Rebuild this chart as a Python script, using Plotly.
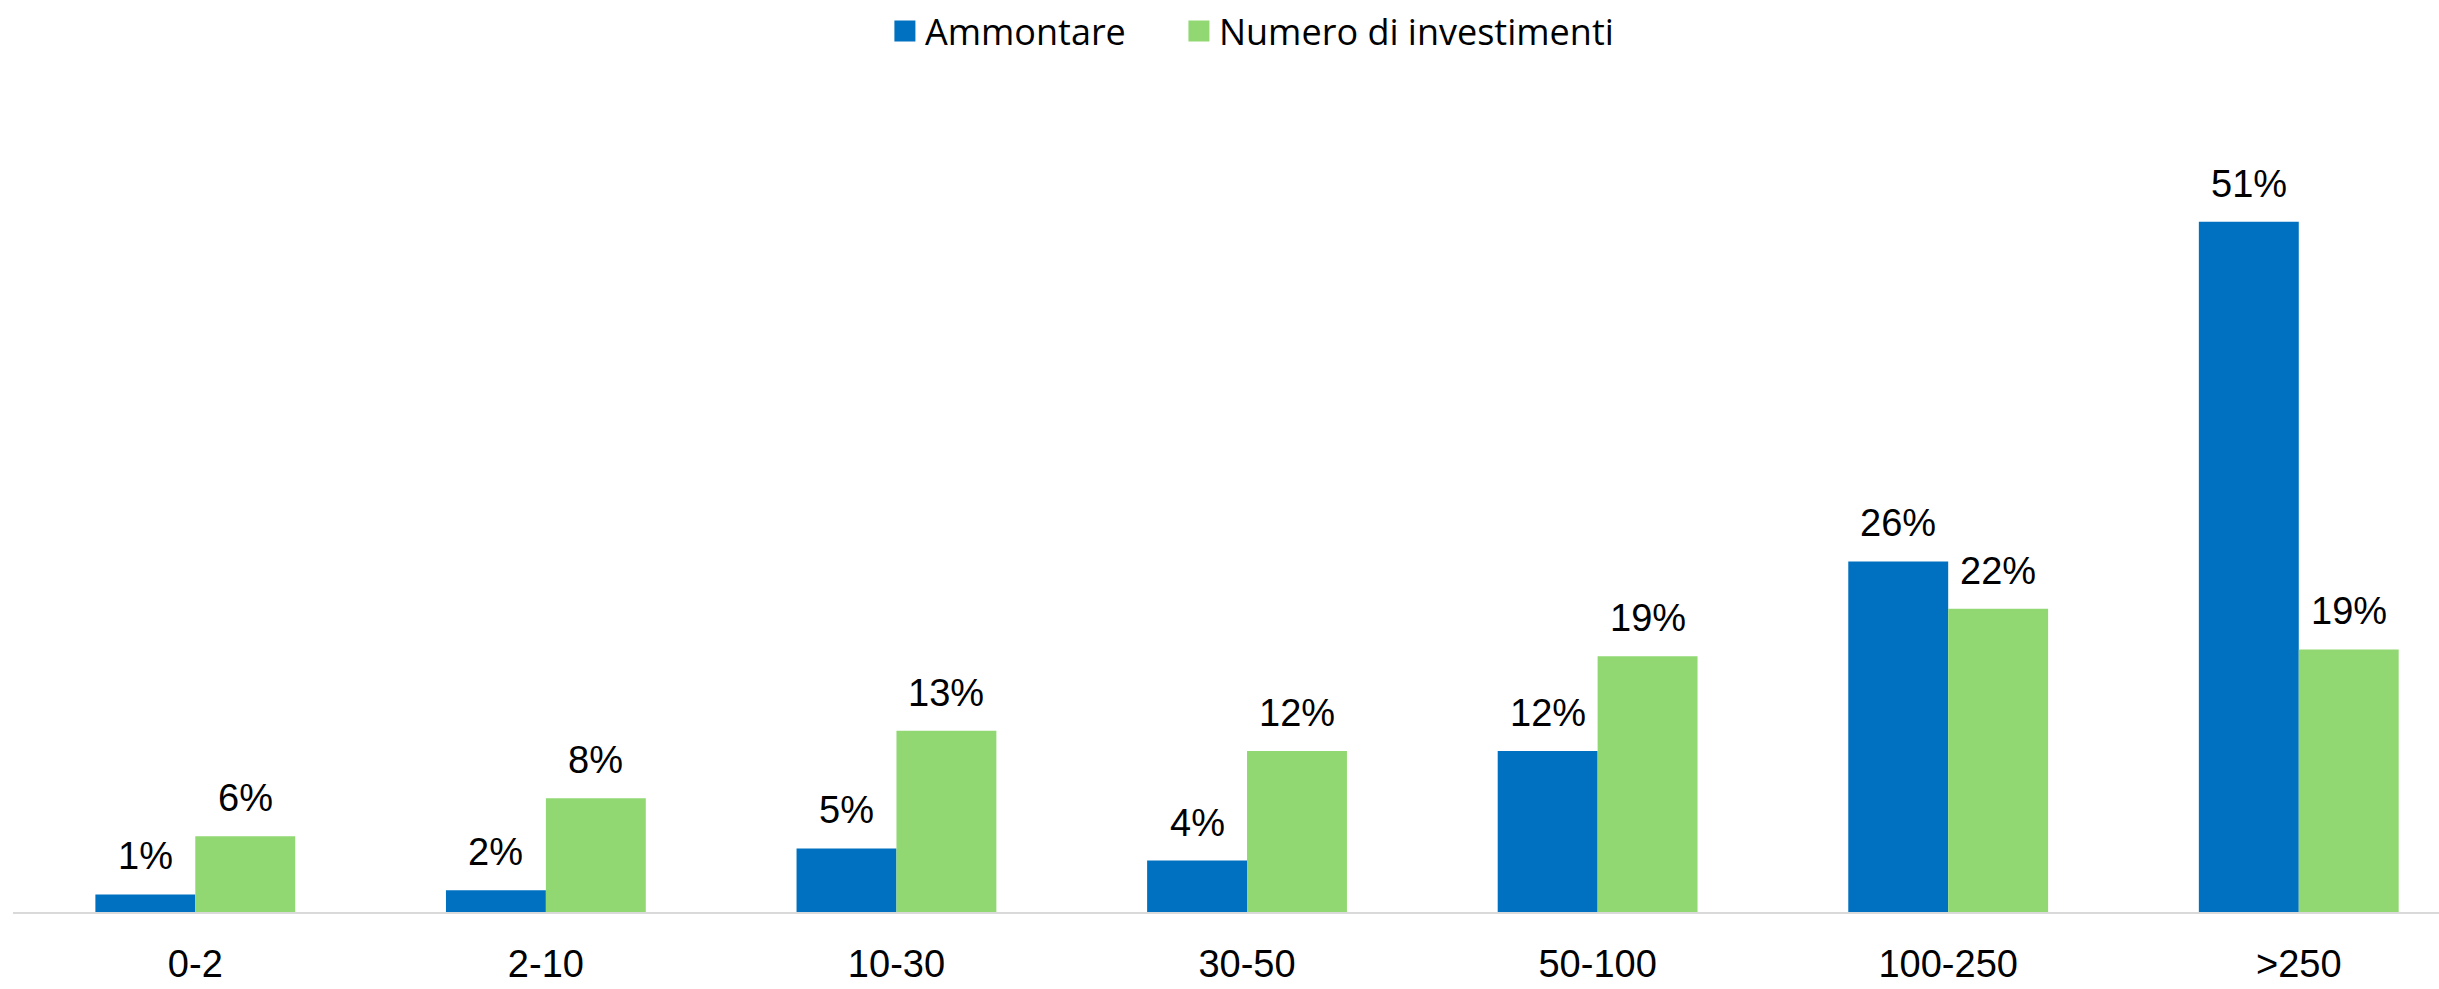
import plotly.graph_objects as go

categories = ["0-2", "2-10", "10-30", "30-50", "50-100", "100-250", ">250"]
ammontare = [0.013, 0.016, 0.047, 0.038, 0.119, 0.259, 0.510]
numero = [0.056, 0.084, 0.134, 0.119, 0.189, 0.224, 0.194]
series_names = ["Ammontare", "Numero di investimenti"]

BLUE = "#0070C0"
GREEN = "#91D873"
LABEL_FONT = dict(family="Liberation Sans, Arial, sans-serif", size=38, color="#000000")
LEGEND_FONT = dict(family="Open Sans, sans-serif", size=36, color="#000000")

W, H = 2439, 989
ML, MR, MT, MB = 13, 0, 100, 77
X_RANGE = [-0.52, 6.40]
BARGAP = 0.43

fig = go.Figure()
series = [(series_names[0], ammontare, BLUE, "legend"), (series_names[1], numero, GREEN, "legend2")]
for name, vals, col, leg in series:
    fig.add_trace(go.Bar(
        x=categories, y=vals, name=name,
        marker=dict(color=col, line=dict(width=0)),
        showlegend=False, hoverinfo="x+y",
    ))
    # legend entries with larger square markers
    fig.add_trace(go.Scatter(
        x=[None], y=[None], mode="markers", name=name, legend=leg,
        marker=dict(symbol="square", size=16, color=col, line=dict(color=col, width=5)),
        showlegend=True,
    ))

# value labels above each bar, placed through the axes' scales
px_per_cat = (W - ML - MR) / (X_RANGE[1] - X_RANGE[0])
bar_w = px_per_cat * (1 - BARGAP) / 2
for i, (name, vals, col, leg) in enumerate(series):
    shift = (i - 0.5) * bar_w
    for c, v in zip(categories, vals):
        fig.add_annotation(
            x=c, y=v, xref="x", yref="y", text=f"{round(v * 100):.0f}%",
            showarrow=False, xanchor="center", yanchor="bottom",
            xshift=shift, yshift=15, font=LABEL_FONT,
        )

legend_common = dict(
    orientation="h", y=1.085, yanchor="middle", xanchor="left",
    font=LEGEND_FONT, itemsizing="trace", bgcolor="rgba(0,0,0,0)",
)

fig.update_layout(
    width=W, height=H,
    margin=dict(l=ML, r=MR, t=MT, b=MB, autoexpand=False),
    paper_bgcolor="white", plot_bgcolor="white",
    barmode="group", bargap=BARGAP, bargroupgap=0,
    font=LABEL_FONT,
    legend=dict(x=0.3594, **legend_common),
    legend2=dict(x=0.4806, **legend_common),
    xaxis=dict(
        range=X_RANGE, showgrid=False, zeroline=False,
        showline=True, linecolor="#D9D9D9", linewidth=2,
        ticks="", tickfont=LABEL_FONT, ticklabelstandoff=17, automargin=False,
    ),
    yaxis=dict(
        range=[0, 0.6], visible=False, showgrid=False, zeroline=False, automargin=False,
    ),
)

fig.write_html(
    "out.html",
    config={"displayModeBar": False},
    post_script="document.body.style.margin='0';",
)
